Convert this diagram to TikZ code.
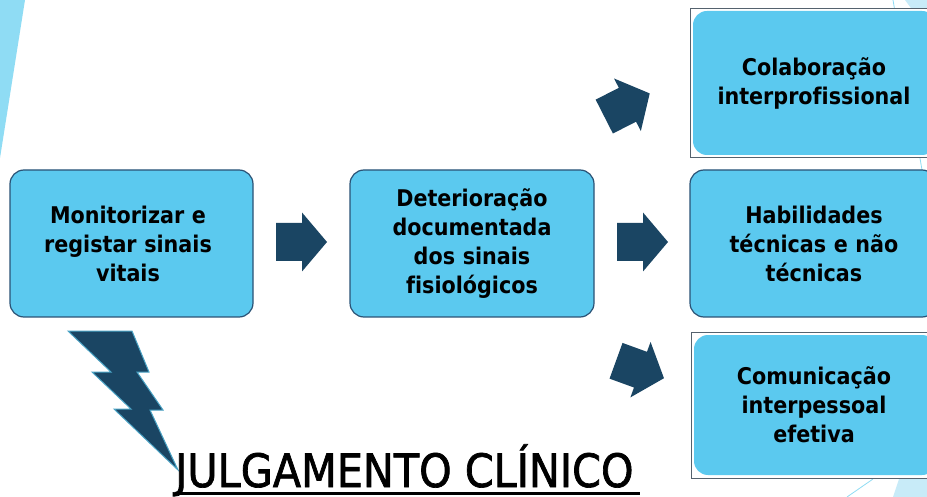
\documentclass[tikz,border=0pt]{standalone}
\usepackage{fontspec}
\setmainfont{DejaVu Sans}
\newfontfamily\condfont{DejaVu Sans Condensed}[Ligatures=NoCommon]
\newfontfamily\titlefont{DejaVu Sans Condensed}[FakeBold=1.5]
\definecolor{boxfill}{HTML}{5BC9EF}
\definecolor{boxline}{HTML}{2A5275}
\definecolor{darkarrow}{HTML}{1A4563}
\definecolor{boltline}{HTML}{4AA3C5}
\definecolor{stripe}{HTML}{8FDCF4}
\definecolor{pale}{HTML}{C8EBF8}
\definecolor{frameline}{HTML}{55626E}
\tikzset{
  boxtext/.style={text width=238pt, align=center, font=\condfont\bfseries\fontsize{23}{29}\selectfont, text=black, inner sep=0pt},
  roundbox/.style={fill=boxfill, draw=boxline, line width=1.2pt, rounded corners=14pt},
  innerbox/.style={fill=boxfill, draw=none, rounded corners=14pt},
  framebox/.style={draw=frameline, line width=0.8pt},
  blockarrow/.pic={\fill[darkarrow] (-25.5,-19)--(0.5,-19)--(0.5,-29.5)--(25.5,0)--(0.5,29.5)--(0.5,19)--(-25.5,19)--cycle;}
}
\begin{document}
\begin{tikzpicture}[x=1pt,y=-1pt]
\useasboundingbox (0,0) rectangle (927,497);
\clip (0,0) rectangle (927,497);
\fill[white] (0,0) rectangle (927,497);
% decorative background
\fill[stripe] (0,0) -- (25,0) -- (0,158) -- cycle;
\fill[pale] (905,0) -- (927,0) -- (927,30) -- cycle;
\draw[stripe, line width=0.8pt] (893,0) -- (922,170);
\draw[stripe, line width=0.8pt] (847,497) -- (873,479);
\fill[pale] (893,497) -- (899,479) -- (927,479) -- (927,497) -- cycle;
% boxes
\draw[roundbox] (10,170) rectangle (253,317);
\draw[roundbox] (350,170) rectangle (594,317);
\draw[roundbox] (690,170) rectangle (936,317);
\draw[framebox, fill=white] (690,8) rectangle (945,157);
\fill[innerbox] (693,11) rectangle (936,155);
\draw[framebox, fill=white] (691,332) rectangle (945,478);
\fill[innerbox] (694,335) rectangle (936,475);
% texts
\node[boxtext] (monit) at (128,244) {Monitorizar e\\registar sinais\\vitais};
\node[boxtext] (deter) at (472,244) {Deterioração\\documentada\\dos sinais\\fisiológicos};
\node[boxtext] (colab) at (814,83) {Colaboração\\interprofissional};
\node[boxtext] (habil) at (814,244) {Habilidades\\técnicas e não\\técnicas};
\node[boxtext] (comun) at (814,405) {Comunicação\\interpessoal\\efetiva};
% block arrows
\pic at (301.5,242) {blockarrow};
\pic at (642.5,242) {blockarrow};
\pic[rotate=27] at (627,105) {blockarrow};
\pic[rotate=-20] at (640,369.5) {blockarrow};
% lightning bolt
\draw[fill=darkarrow, draw=boltline, line width=1pt, line join=miter]
  (68,331) -- (132,331) -- (149,372) -- (137,372) -- (163,410) -- (150,410) -- (178,470)
  -- (114,409) -- (131,409) -- (92,372) -- (111,372) -- cycle;
% title
\node[anchor=base west, inner sep=0pt, font=\titlefont\fontsize{46}{46}\selectfont] (title) at (175,487) {JULGAMENTO CLÍNICO};
\draw[line width=3pt] ([yshift=-6pt]title.base west) -- ([yshift=-6pt,xshift=6pt]title.base east);
\end{tikzpicture}
\end{document}
